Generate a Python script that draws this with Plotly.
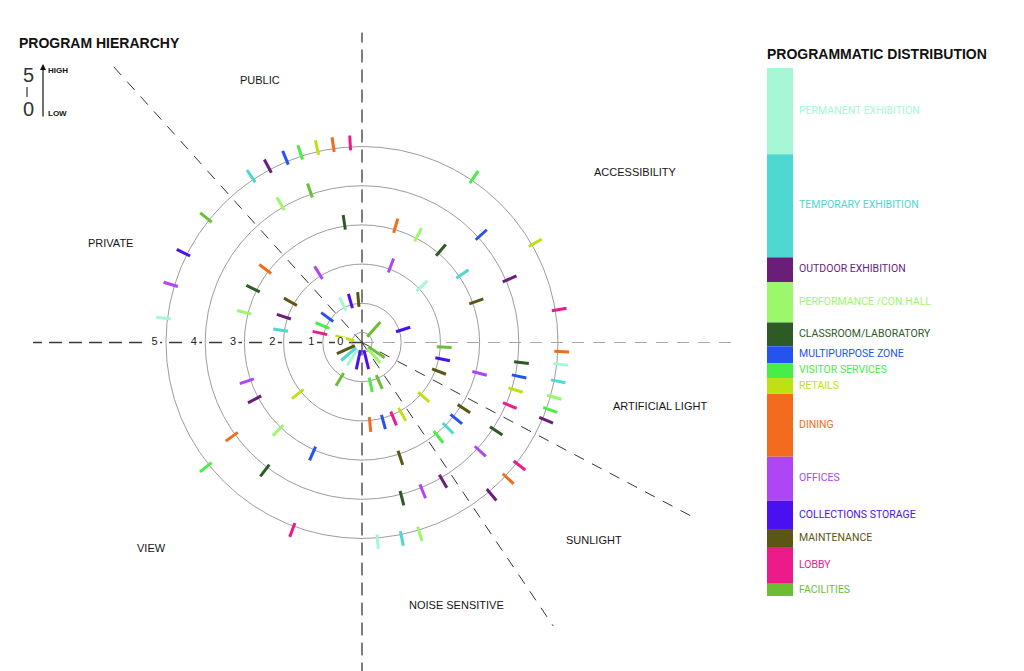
import plotly.graph_objects as go
import numpy as np

# ---------------- data ----------------
PROGRAM_CODES = ["perm", "temp", "outd", "perf", "clas", "mult", "visi",
                 "reta", "dini", "offi", "coll", "main", "lobb", "faci"]
PROGRAM_LABELS = ["PERMANENT EXHIBITION", "TEMPORARY EXHIBITION", "OUTDOOR EXHIBITION",
                  "PERFORMANCE /CON.HALL", "CLASSROOM/LABORATORY", "MULTIPURPOSE ZONE",
                  "VISITOR SERVICES", "RETAILS", "DINING", "OFFICES",
                  "COLLECTIONS STORAGE", "MAINTENANCE", "LOBBY", "FACILITIES"]
PROGRAM_COLORS = ["#a5f7d6", "#4dd8d2", "#6b1e79", "#9cf76b", "#2e5a27", "#2453ef",
                  "#47ee47", "#bfe013", "#f36c1d", "#ae46f6", "#4a10f2", "#5c5615",
                  "#ec1a8b", "#6bbe34"]
# share of the programmatic distribution bar (%)
PROGRAM_SHARE = [16.3, 19.5, 4.7, 7.6, 4.5, 3.2, 2.8, 3.0, 11.9, 8.3, 5.5, 3.4, 6.8, 2.3]

# hierarchy level (0 = centre .. 5 = outer ring), angle in degrees (ccw from east)
LEVEL5_ANGLE = [93.4, 98.3, 103.0, 108.0, 112.5, 118.1, 123.7, 141.3, 153.3, 163.1, 173.0,
                218.6, 249.6, 55.9, 29.9, 9.5, -2.6, -6.3, -11.2, -15.9, -19.7, -22.9,
                -38.0, -43.0, -49.6, -73.2, -78.5, -85.5]
LEVEL5_PROG = ["lobb", "dini", "reta", "visi", "mult", "outd", "temp", "faci", "coll", "offi", "perm",
               "visi", "lobb", "visi", "reta", "lobb", "dini", "perm", "temp", "perf", "visi", "outd",
               "lobb", "dini", "outd", "perf", "temp", "perm"]

LEVEL4_ANGLE = [108.9, 120.4, 42.1, 23.3, -7.2, -12.2, -17.2, -23.1, -33.4, -42.6, -59.7,
                -67.8, -75.6, 215.9, 232.8]
LEVEL4_PROG = ["faci", "perf", "mult", "outd", "clas", "mult", "reta", "lobb", "clas", "offi", "outd",
               "offi", "clas", "dini", "clas"]

LEVEL3_ANGLE = [98.4, 142.8, 153.7, 165.6, 198.6, 207.9, 226.3, 246.0, 73.9, 62.5, 49.5, 34.3,
                19.8, -14.7, -33.0, -39.1, -44.9, -51.0, -71.6]
LEVEL3_PROG = ["clas", "dini", "clas", "perf", "offi", "outd", "perf", "mult", "dini", "perf", "clas", "temp",
               "main", "offi", "main", "mult", "temp", "visi", "main"]

LEVEL2_ANGLE = [121.9, 150.4, 161.7, 171.3, 218.7, 69.4, 43.3, -3.2, -11.7, -20.7, -41.5, -60.8,
                -67.4, -74.9, -84.4]
LEVEL2_PROG = ["offi", "main", "outd", "temp", "reta", "offi", "perm", "faci", "coll", "main", "reta", "reta",
               "lobb", "mult", "dini"]

LEVEL1_ANGLE = [94.9, 105.6, 116.5, 143.8, 156.8, 167.3, 17.5, 239.0, 281.7, 293.6]
LEVEL1_PROG = ["main", "coll", "perm", "mult", "visi", "lobb", "coll", "faci", "visi", "faci"]

LEVEL0_ANGLE = [48.0, 166.0, 204.0, 221.0, 237.0, 258.0, 284.0, 312.0, 326.0]
LEVEL0_PROG = ["faci", "reta", "main", "temp", "perm", "coll", "coll", "perf", "faci"]

RING_LEVELS = [0.26, 1, 2, 3, 4, 5]
SCALE_LABELS = ["5", "4", "3", "2", "1", "0"]
SECTORS = ["PUBLIC", "ACCESSIBILITY", "PRIVATE", "ARTIFICIAL LIGHT", "SUNLIGHT", "VIEW", "NOISE SENSITIVE"]

# ---------------- layout geometry ----------------
OFF = 8                      # page body margin of the html page
W, H = 1024 - OFF, 671 - OFF
CX, CY = 362.0, 342.5        # target pixel position in the window
UNIT = 39.2
R_MAX = 5.5
RPX = R_MAX * UNIT


def px(x):
    return (x - OFF) / W


def py(y):
    return 1 - (y - OFF) / H


NARROW = "Liberation Sans Narrow, Arial Narrow, Roboto, sans-serif"
ARIAL = "Liberation Sans, Arial, sans-serif"

fig = go.Figure()

levels = {
    5: (LEVEL5_ANGLE, LEVEL5_PROG),
    4: (LEVEL4_ANGLE, LEVEL4_PROG),
    3: (LEVEL3_ANGLE, LEVEL3_PROG),
    2: (LEVEL2_ANGLE, LEVEL2_PROG),
    1: (LEVEL1_ANGLE, LEVEL1_PROG),
    0: (LEVEL0_ANGLE, LEVEL0_PROG),
}

for code, color in zip(PROGRAM_CODES, PROGRAM_COLORS):
    rr, tt = [], []
    for lvl, (angs, progs) in levels.items():
        if lvl == 0:
            mid, half = 0.45, 0.25
        else:
            mid, half = lvl + 0.1, 0.19
        for a, p in zip(angs, progs):
            if p == code:
                rr += [mid - half, mid + half, None]
                tt += [a, a, None]
    fig.add_trace(go.Scatterpolar(r=rr, theta=tt, mode="lines",
                                  line=dict(color=color, width=3),
                                  hoverinfo="skip", showlegend=False))

# scale numbers on the horizontal axis
lab_r = [float(s) + 0.29 if s != "0" else 0.55 for s in SCALE_LABELS]
fig.add_trace(go.Scatterpolar(r=lab_r, theta=[180] * len(lab_r), mode="markers+text",
                              text=SCALE_LABELS, textposition="middle center",
                              marker=dict(color="white", size=11, symbol="square"),
                              textfont=dict(family=ARIAL, size=11, color="#222"),
                              hoverinfo="skip", showlegend=False))

# programmatic distribution bar (x2 axis measured in pixels from the bar's left edge)
BAR_LEFT, BAR_W = 767, 26
starts = np.concatenate([[0], np.cumsum(PROGRAM_SHARE)[:-1]])
mids = starts + np.array(PROGRAM_SHARE) / 2
total = float(np.sum(PROGRAM_SHARE))
fig.add_trace(go.Bar(x=[BAR_W / 2] * len(PROGRAM_SHARE), y=PROGRAM_SHARE, base=starts, width=BAR_W,
                     marker=dict(color=PROGRAM_COLORS, line=dict(width=0)),
                     xaxis="x2", yaxis="y2", hoverinfo="skip", showlegend=False))
fig.add_trace(go.Scatter(x=[BAR_W + 6] * len(PROGRAM_SHARE), y=mids, mode="text",
                         text=PROGRAM_LABELS, textposition="middle right",
                         textfont=dict(family=NARROW, size=10.5, color=PROGRAM_COLORS),
                         cliponaxis=False, xaxis="x2", yaxis="y2",
                         hoverinfo="skip", showlegend=False))

# dashed dividers (decoration)
shapes = []


def ray(angle, length, color, width, dash):
    a = np.deg2rad(angle)
    x1 = CX + length * np.cos(a)
    y1 = CY - length * np.sin(a)
    return dict(type="line", xref="paper", yref="paper", x0=px(CX), y0=py(CY),
                x1=px(x1), y1=py(y1), layer="below",
                line=dict(color=color, width=width, dash=dash))


shapes.append(ray(90, 310, "#3a3a3a", 1.3, "13px,7px"))
shapes.append(ray(270, 330, "#3a3a3a", 1.3, "13px,7px"))
shapes.append(ray(180, 329, "#3a3a3a", 1.3, "13px,7px"))
shapes.append(ray(0, 373, "#a8a8a8", 1.2, "12px,9px"))
shapes.append(ray(132, 372, "#333333", 1.0, "11px,9px"))
shapes.append(ray(-27.8, 373, "#333333", 1.0, "11px,9px"))
shapes.append(ray(-56.0, 342, "#333333", 1.0, "11px,9px"))
# the little scale bar between 5 and 0
shapes.append(dict(type="line", xref="paper", yref="paper", x0=px(27), x1=px(27),
                   y0=py(87), y1=py(97), line=dict(color="#333", width=1.2)))

annotations = []
sector_pos = [(259.5, 80), (635.5, 172), (110, 243), (660, 406), (594, 540), (151, 548), (456, 605)]
for txt, (x, y) in zip(SECTORS, sector_pos):
    annotations.append(dict(x=px(x), y=py(y), xref="paper", yref="paper", text=txt,
                            showarrow=False, xanchor="center", yanchor="middle",
                            font=dict(family=ARIAL, size=11, color="#151515")))

annotations.append(dict(x=px(17), y=py(43), xref="paper", yref="paper",
                        text="<b>PROGRAM HIERARCHY</b>", showarrow=False,
                        xanchor="left", yanchor="middle",
                        font=dict(family=ARIAL, size=14, color="#111")))
annotations.append(dict(x=px(765), y=py(54), xref="paper", yref="paper",
                        text="<b>PROGRAMMATIC DISTRIBUTION</b>", showarrow=False,
                        xanchor="left", yanchor="middle",
                        font=dict(family=ARIAL, size=14, color="#111")))
annotations.append(dict(x=px(28), y=py(75), xref="paper", yref="paper", text="5",
                        showarrow=False, xanchor="center", yanchor="middle",
                        font=dict(family=ARIAL, size=20, color="#333")))
annotations.append(dict(x=px(28), y=py(109), xref="paper", yref="paper", text="0",
                        showarrow=False, xanchor="center", yanchor="middle",
                        font=dict(family=ARIAL, size=20, color="#333")))
annotations.append(dict(x=px(43), y=py(64), xref="paper", yref="paper", text="",
                        showarrow=True, ax=0, ay=54, arrowhead=2, arrowsize=1,
                        arrowwidth=1.2, arrowcolor="#111", standoff=0))
annotations.append(dict(x=px(46), y=py(70), xref="paper", yref="paper", text="<b>HIGH</b>",
                        showarrow=False, xanchor="left", yanchor="middle",
                        font=dict(family=ARIAL, size=8, color="#111")))
annotations.append(dict(x=px(46), y=py(113), xref="paper", yref="paper", text="<b>LOW</b>",
                        showarrow=False, xanchor="left", yanchor="middle",
                        font=dict(family=ARIAL, size=8, color="#111")))

fig.update_layout(
    width=W, height=H, margin=dict(l=0, r=0, t=0, b=0),
    paper_bgcolor="white", plot_bgcolor="rgba(0,0,0,0)", template="none",
    showlegend=False, barmode="overlay",
    polar=dict(
        domain=dict(x=[px(CX - RPX), px(CX + RPX)], y=[py(CY + RPX), py(CY - RPX)]),
        bgcolor="rgba(0,0,0,0)",
        radialaxis=dict(range=[0, R_MAX], tickvals=RING_LEVELS, showticklabels=False,
                        ticks="", showline=False, gridcolor="#9c9c9c", gridwidth=1),
        angularaxis=dict(showgrid=False, showline=False, showticklabels=False, ticks="",
                         rotation=0, direction="counterclockwise"),
    ),
    xaxis2=dict(domain=[px(BAR_LEFT), 1.0], range=[0, (1024 - BAR_LEFT)], visible=False,
                anchor="y2", fixedrange=True),
    yaxis2=dict(domain=[py(596), py(68)], range=[total, 0], visible=False,
                anchor="x2", fixedrange=True),
    shapes=shapes, annotations=annotations,
)

fig.write_html("out.html")
